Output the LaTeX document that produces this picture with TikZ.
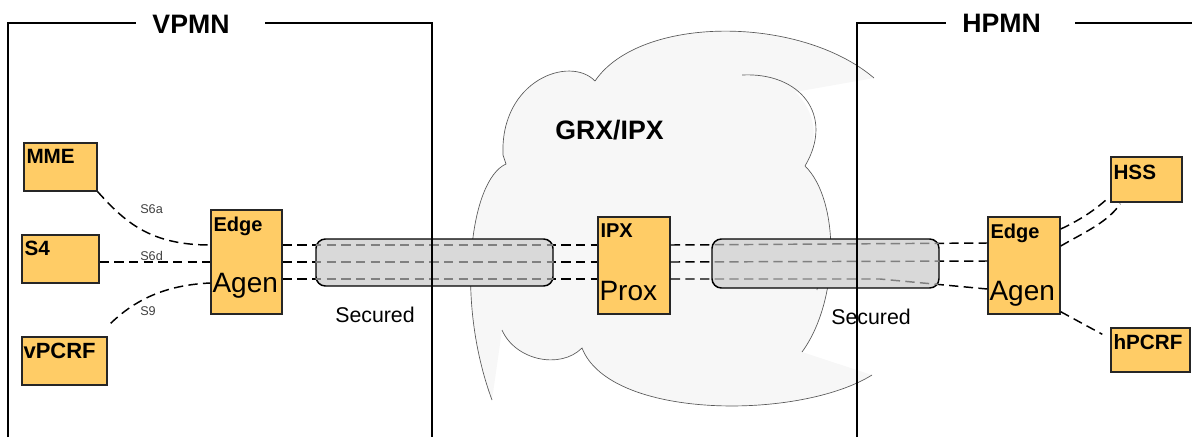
\documentclass[tikz,border=0pt]{standalone}
\usepackage{fontspec}
\setmainfont{Liberation Sans}
\usetikzlibrary{calc}
\definecolor{boxfill}{HTML}{FFCC66}
\definecolor{cloudfill}{HTML}{F7F7F7}
\definecolor{tubefill}{HTML}{D9D9D9}
\tikzset{
  pxsize/.style 2 args={minimum width=#1*0.75pt, minimum height=#2*0.75pt},
  box/.style={draw=black!85, line width=1.1pt, fill=boxfill, inner sep=0pt},
  tube/.style={draw=black, line width=1.1pt, fill=tubefill, rounded corners=7pt, inner sep=0pt},
  link/.style={dash pattern=on 7pt off 4pt, line width=1.1pt},
  frame/.style={line width=1pt},
  cloudline/.style={draw=black!65, line width=0.5pt},
  boxlbl/.style={anchor=north west, inner xsep=1.5pt, inner ysep=5pt, font=\bfseries\fontsize{15.5}{15.5}\selectfont},
  toplbl/.style={anchor=north west, inner xsep=1.5pt, inner ysep=5pt, font=\bfseries\fontsize{15}{15}\selectfont},
  bigtxt/.style={anchor=base west, inner sep=0pt, font=\fontsize{21}{21}\selectfont},
  netttl/.style={anchor=base, inner sep=0pt, font=\bfseries\fontsize{20}{20}\selectfont},
  ifc/.style={anchor=base west, inner sep=0pt, text=black!75, font=\fontsize{9.5}{9.5}\selectfont},
  sectxt/.style={anchor=base, inner sep=0pt, font=\fontsize{16}{16}\selectfont}
}
% the three links between the edge agents and the proxy
\newcommand{\midlinks}[1]{%
  \draw[link,#1] ($(edgeL.east)+(0,-17)$) -- ($(ipx.west)+(0,-20.5)$);
  \draw[link,#1] (edgeL.east) -- ($(ipx.west)+(0,-3.5)$);
  \draw[link,#1] ($(edgeL.east)+(0,17)$) -- ($(ipx.west)+(0,13.5)$);
  \draw[link,#1] ($(ipx.east)+(0,-20.5)$) -- ($(edgeR.west)+(0,-22.5)$);
  \draw[link,#1] ($(ipx.east)+(0,-3.5)$) -- ($(edgeR.west)+(0,-4.5)$);
  \draw[link,#1] ($(ipx.east)+(0,13.5)$) -- (kink) -- ($(edgeR.west)+(0,23.5)$);
}
\begin{document}
\begin{tikzpicture}[x=0.75pt,y=-0.75pt]
\useasboundingbox (0,0) rectangle (1192,437);

% cloud
\fill[cloudfill] (595,81) .. controls (640,15) and (800,15) .. (874,78) -- (795,92)
  .. controls (815,110) and (820,140) .. (805,166) .. controls (840,200) and (840,300) .. (802,352)
  -- (872,375) .. controls (800,420) and (610,420) .. (582,348)
  .. controls (560,370) and (515,360) .. (502,330) -- (492,400)
  .. controls (455,300) and (470,180) .. (506,164) -- (503,155)
  .. controls (500,80) and (570,55) .. (595,81) -- cycle;
\draw[cloudline] (595,81) .. controls (640,15) and (800,15) .. (874,78);
\draw[cloudline] (595,81) .. controls (570,55) and (500,80) .. (503,155) -- (506,164)
  .. controls (470,180) and (455,300) .. (492,400);
\draw[cloudline] (502,330) .. controls (515,360) and (560,370) .. (582,348)
  .. controls (610,420) and (800,420) .. (872,375);
\draw[cloudline] (742,75) .. controls (800,72) and (835,115) .. (805,166)
  .. controls (840,200) and (840,300) .. (802,352);
\draw[cloudline] (816,253) .. controls (819,265) and (819,278) .. (817,290);

% network elements
\node[box, pxsize={73}{48}] (mme) at (60.5,167) {};
\node[box, pxsize={77}{48}] (sfour) at (60.5,259) {};
\node[box, pxsize={85}{48}] (vpcrf) at (64.5,361) {};
\node[box, pxsize={71}{104}] (edgeL) at (246.5,262) {};
\node[box, pxsize={72}{97}] (ipx) at (634,265.5) {};
\node[box, pxsize={72}{97}] (edgeR) at (1024,265.5) {};
\node[box, pxsize={71}{45}] (hss) at (1146.5,179.5) {};
\node[box, pxsize={79}{44}] (hpcrf) at (1150.5,350) {};

% links through GRX/IPX
\coordinate (kink) at (880,279);
\midlinks{draw=black}
\node[tube, pxsize={237}{47}] (tubeL) at (434.5,262.5) {};
\node[tube, pxsize={227}{49}] (tubeR) at (825.5,263.5) {};
\begin{scope}
  \clip[rounded corners=7pt] (tubeL.south west) rectangle (tubeL.north east)
    (tubeR.south west) rectangle (tubeR.north east);
  \midlinks{draw=black!50}
\end{scope}

% interfaces
\draw[link] (mme.south east) .. controls (125,222) and (150,245) .. ($(edgeL.west)+(0,-17)$);
\draw[link] (sfour.east |- edgeL.west) -- (edgeL.west);
\draw[link] ($(vpcrf.north east)+(3,-13)$) .. controls (135,300) and (165,285) .. ($(edgeL.west)+(0,21)$);
\draw[link] ($(edgeR.east)+(0,-36.5)$) .. controls (1080,220) and (1095,210) .. ($(hss.south west)+(-3,-4)$);
\draw[link] ($(edgeR.east)+(0,-19.5)$) .. controls (1085,232) and (1108,222) .. ($(hss.south west)+(10,1)$);
\draw[link] ($(edgeR.south east)+(0,-3)$) -- ($(hpcrf.north west)+(-8,7)$);

% network frames
\draw[frame] (8,437) -- (8,23) -- (136,23);
\draw[frame] (265,23) -- (432,23) -- (432,437);
\draw[frame] (857,437) -- (857,23) -- (946,23);
\draw[frame] (1075,23) -- (1192,23);

% texts
\node[netttl] (vpmn) at (191,33) {VPMN};
\node[netttl] (hpmn) at (1001.5,32) {HPMN};
\node[netttl] (grx) at (609.5,139) {GRX/IPX};
\node[boxlbl] (mmeT) at ($(mme.north west)+(1,0)$) {MME};
\node[boxlbl] (sfourT) at ($(sfour.north west)+(1,0)$) {S4};
\node[boxlbl, font=\bfseries\fontsize{16.5}{16.5}\selectfont] (vpcrfT) at ($(vpcrf.north west)+(0,0)$) {vPCRF};
\node[boxlbl] (hssT) at ($(hss.north west)+(1,2)$) {HSS};
\node[boxlbl] (hpcrfT) at ($(hpcrf.north west)+(1,0)$) {hPCRF};
\node[toplbl] (edgeLT) at ($(edgeL.north west)+(1,1)$) {Edge};
\node[toplbl] (ipxT) at ($(ipx.north west)+(1,1)$) {IPX};
\node[toplbl] (edgeRT) at ($(edgeR.north west)+(1,1)$) {Edge};
\node[bigtxt] (agenL) at ($(edgeL.north west)+(2,83)$) {Agen};
\node[bigtxt] (prox) at ($(ipx.north west)+(2,84)$) {Prox};
\node[bigtxt] (agenR) at ($(edgeR.north west)+(2,84)$) {Agen};
\node[ifc] (sixa) at (140,213) {S6a};
\node[ifc] (sixd) at (140,260) {S6d};
\node[ifc] (nine) at (140,315) {S9};
\node[sectxt] (secL) at (375,322) {Secured};
\node[sectxt] (secR) at (871,324) {Secured};
\end{tikzpicture}
\end{document}
